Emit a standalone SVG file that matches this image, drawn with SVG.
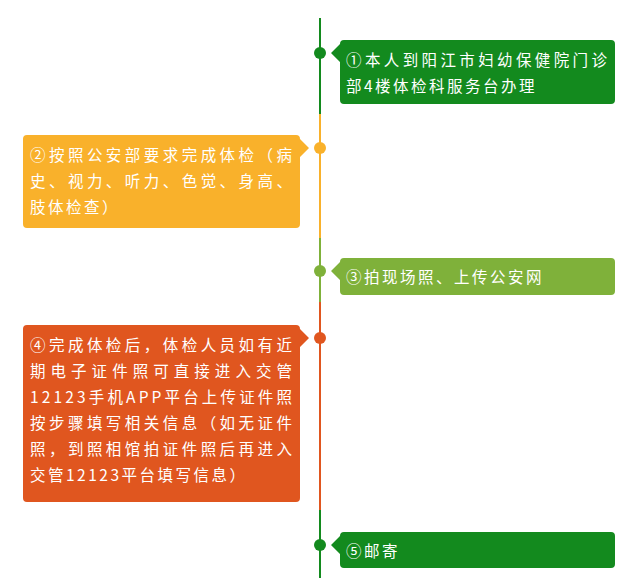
<svg xmlns="http://www.w3.org/2000/svg" width="642" height="584" viewBox="0 0 642 584">
<style>
text{font-family:"Noto Sans CJK SC","Liberation Sans",sans-serif;font-size:15.5px;fill:#fff}
.dot{stroke:none}
</style>
<rect width="642" height="584" fill="#fff"/>
<g id="connectors" stroke-width="2">
<line x1="320" y1="18" x2="320" y2="114" stroke="#138a1e"/>
<line x1="320" y1="114" x2="320" y2="238" stroke="#f9b12b"/>
<line x1="320" y1="238" x2="320" y2="302" stroke="#7fb13a"/>
<line x1="320" y1="302" x2="320" y2="510" stroke="#e0561f"/>
<line x1="320" y1="510" x2="320" y2="578" stroke="#138a1e"/>
</g>
<g id="n1" fill="#138a1e">
<circle cx="320" cy="53" r="6"/>
<path d="M344 40H611Q615 40 615 44V100Q615 104 611 104H344Q340 104 340 100V62L331 53L340 44Q340 40 344 40Z"/>
<text x="346" y="66" textLength="261">①本人到阳江市妇幼保健院门诊</text>
<text x="346" y="92" letter-spacing="2.5">部4楼体检科服务台办理</text>
</g>
<g id="n2" fill="#f9b12b">
<circle cx="320" cy="148" r="6"/>
<path d="M27 135H296Q300 135 300 139V139L309 148L300 157V224Q300 228 296 228H27Q23 228 23 224V139Q23 135 27 135Z"/>
<text x="30" y="161" textLength="262">②按照公安部要求完成体检（病</text>
<text x="30" y="187" textLength="262">史、视力、听力、色觉、身高、</text>
<text x="30" y="213" letter-spacing="2.5">肢体检查）</text>
</g>
<g id="n3" fill="#7fb13a">
<circle cx="320" cy="271" r="6"/>
<path d="M344 258H611Q615 258 615 262V291Q615 295 611 295H344Q340 295 340 291V280L331 271L340 262Q340 258 344 258Z"/>
<text x="346" y="283" letter-spacing="2.5">③拍现场照、上传公安网</text>
</g>
<g id="n4" fill="#e0561f">
<circle cx="320" cy="338" r="6"/>
<path d="M27 325H296Q300 325 300 329L309 338L300 347V498Q300 502 296 502H27Q23 502 23 498V329Q23 325 27 325Z"/>
<text x="30" y="351" textLength="262">④完成体检后，体检人员如有近</text>
<text x="30" y="377" textLength="262">期电子证件照可直接进入交管</text>
<text x="30" y="403" textLength="262">12123手机APP平台上传证件照</text>
<text x="30" y="429" textLength="262">按步骤填写相关信息（如无证件</text>
<text x="30" y="455" textLength="262">照，到照相馆拍证件照后再进入</text>
<text x="30" y="481" letter-spacing="2.5">交管12123平台填写信息）</text>
</g>
<g id="n5" fill="#138a1e">
<circle cx="320" cy="545" r="6"/>
<path d="M344 532H611Q615 532 615 536V564Q615 568 611 568H344Q340 568 340 564V554L331 545L340 536Q340 532 344 532Z"/>
<text x="346" y="557" letter-spacing="2.5">⑤邮寄</text>
</g>
</svg>
